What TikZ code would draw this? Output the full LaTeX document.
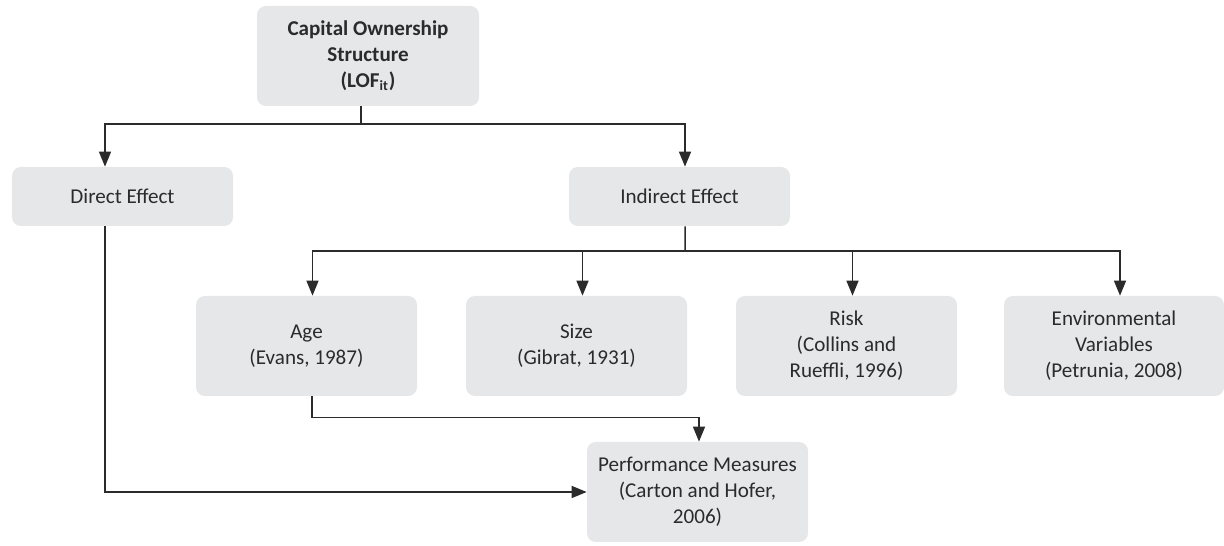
\documentclass[tikz,border=0pt]{standalone}
\usepackage{fontspec}
\setmainfont{Carlito}
\usetikzlibrary{arrows.meta}
\definecolor{boxgray}{HTML}{E6E7E8}
\definecolor{inkgray}{HTML}{2B2B2B}
\tikzset{
  box/.style = {rectangle, rounded corners=5pt, fill=boxgray,
                minimum width=#1, minimum height=2cm,
                inner sep=2pt, align=center, text=inkgray,
                font=\fontsize{12}{14.8}\selectfont},
  box/.default = 4.42cm,
  flatbox/.style = {box, minimum height=1.18cm},
  link/.style = {draw=inkgray, line width=0.85pt},
  arr/.style = {link, -{Triangle[length=8.5pt,width=6.8pt]}}
}

\begin{document}
\begin{tikzpicture}
	\useasboundingbox (0,0) rectangle (24.48,10.92);
	\def \row{4.00}
	\def \bus{5.90}

	% Boxes
	\node[box=4.44cm] (cos) at (7.36,9.80) {\textbf{Capital Ownership}\\\textbf{Structure}\\\textbf{(LOF\textsubscript{it})}};
	\node[flatbox] (direct) at (2.45,6.99) {Direct Effect};
	\node[flatbox] (indirect) at (13.59,6.99) {Indirect Effect};
	\node[box] (age) at (6.13,\row) {Age\\(Evans, 1987)};
	\node[box] (size) at (11.53,\row) {Size\\(Gibrat, 1931)};
	\node[box] (risk) at (16.93,\row) {Risk\\(Collins and\\Rueffli, 1996)};
	\node[box=4.40cm] (env) at (22.28,\row) {Environmental\\Variables\\(Petrunia, 2008)};
	\node[box] (perf) at (13.95,1.08) {Performance Measures\\(Carton and Hofer,\\2006)};

	% Split points
	\coordinate (split1) at (7.22,8.44);
	\coordinate (split2) at (13.70,\bus);

	% Ownership -> effects
	\draw[link] ([xshift=-0.14cm]cos.south) -- (split1);
	\draw[arr] (split1) -| ([xshift=-0.35cm]direct.north);
	\draw[arr] (split1) -| ([xshift=0.11cm]indirect.north);

	% Indirect effect -> channels
	\draw[link] ([xshift=0.11cm]indirect.south) -- (split2);
	\foreach \ch in {age,size,risk,env}
		\draw[arr] (split2) -| ([xshift=0.12cm]\ch.north);

	% Into performance
	\draw[arr] ([xshift=0.11cm]age.south) -- ++(0,-0.42) -| ([xshift=0.03cm]perf.north);
	\draw[arr] ([xshift=-0.35cm]direct.south) |- (perf.west);

\end{tikzpicture}
\end{document}
